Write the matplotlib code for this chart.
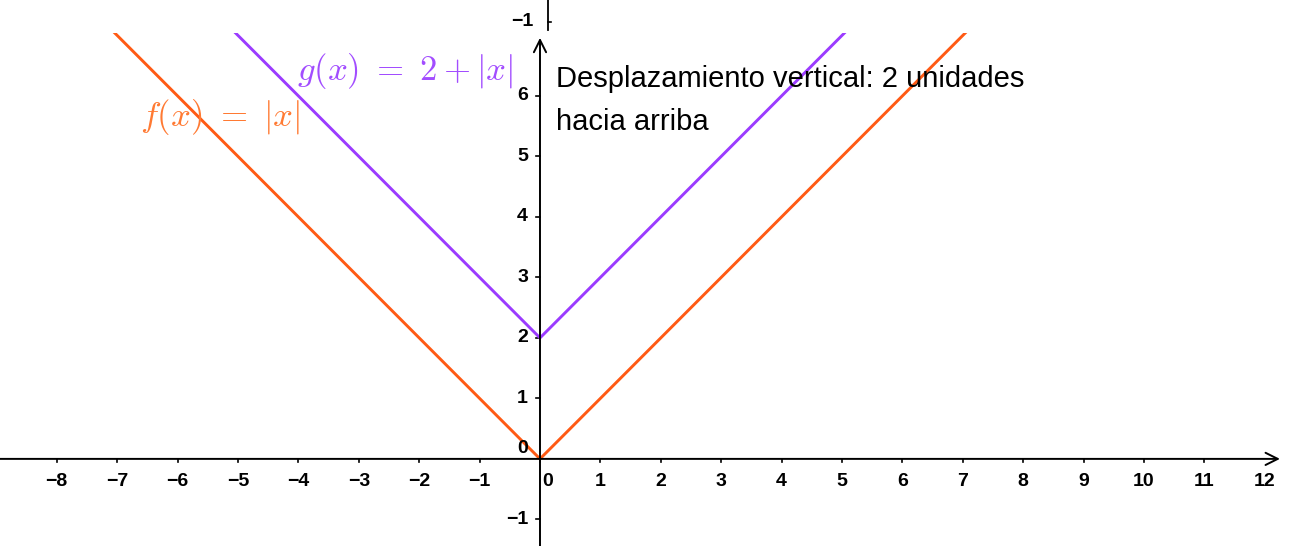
import matplotlib.pyplot as plt
from matplotlib.lines import Line2D

plt.rcParams['font.family'] = ['Liberation Sans', 'DejaVu Sans']
plt.rcParams['mathtext.fontset'] = 'cm'

# data
x_pts = [-9, 0, 13]
f_vals = [abs(v) for v in x_pts]
g_vals = [2 + abs(v) for v in x_pts]
x_ticks = [-8, -7, -6, -5, -4, -3, -2, -1, 0, 1, 2, 3, 4, 5, 6, 7, 8, 9, 10, 11, 12]
y_ticks = [-1, 1, 2, 3, 4, 5, 6]

orange = '#FF5A14'
purple = '#9B3BFF'

fig = plt.figure(figsize=(12.92, 5.46), dpi=100)
ax = fig.add_axes([0, 0, 1, 513 / 546])
ax.set_xlim(-8.94, 12.45)
ax.set_ylim(-1.44, 7.04)
ax.axis('off')

# axes with arrows
ax.annotate('', xy=(12.25, 0), xytext=(-8.94, 0),
            arrowprops=dict(arrowstyle='->', color='black', lw=1.4,
                            mutation_scale=22, shrinkA=0, shrinkB=0))
ax.annotate('', xy=(0, 6.96), xytext=(0, -1.44),
            arrowprops=dict(arrowstyle='->', color='black', lw=1.4,
                            mutation_scale=22, shrinkA=0, shrinkB=0))

tick_font = dict(fontsize=14, fontweight='bold', color='black')
for t in x_ticks:
    if t != 12:
        ax.plot([t, t], [0, -0.05], color='black', lw=1.2)
    if t == 0:
        ax.text(0.13, -0.23, '0', ha='center', va='top', **tick_font)
    else:
        ax.text(t, -0.23, str(t).replace('-', '\u2212'), ha='center', va='top', **tick_font)
for t in y_ticks:
    ax.plot([-0.06, 0], [t, t], color='black', lw=1.2)
    ax.text(-0.2, t, str(t).replace('-', '\u2212'), ha='right', va='center', **tick_font)
ax.text(-0.2, 0.03, '0', ha='right', va='bottom', **tick_font)

# functions
ax.plot(x_pts, f_vals, color=orange, lw=2.1, solid_joinstyle='miter')
ax.plot(x_pts, g_vals, color=purple, lw=2.1, solid_joinstyle='miter')

ax.text(-6.62, 5.65, r'$f(x)\ =\ |x|$', color='#FF7A33', fontsize=25, va='center')
ax.text(-4.02, 6.41, r'$g(x)\ =\ 2+|x|$', color='#A24DFF', fontsize=25, va='center')

ax.text(0.26, 5.92, 'Desplazamiento vertical: 2 unidades\nhacia arriba',
        fontsize=21, va='center', ha='left', linespacing=1.68)

# small strip of axis visible at the top edge
fig.add_artist(Line2D([548 / 1292, 548 / 1292], [1, 1 - 30 / 546],
                      color='black', lw=1.3))
fig.add_artist(Line2D([548 / 1292, 551 / 1292], [1 - 22 / 546, 1 - 22 / 546],
                      color='black', lw=1.2))
fig.text(533 / 1292, 1 - 22 / 546, '\u22121', ha='right', va='center', **tick_font)

fig.savefig('out.png', dpi=100)
